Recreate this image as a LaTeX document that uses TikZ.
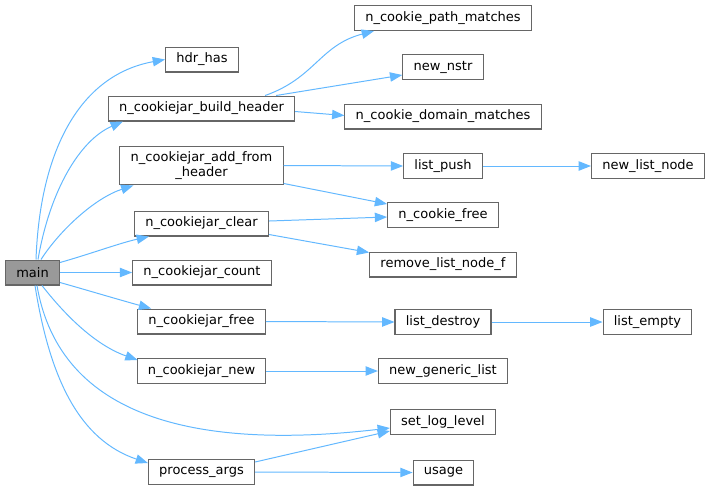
\documentclass[tikz,border=0pt]{standalone}
\usepackage{fontspec}
\setmainfont{DejaVu Sans}
\usetikzlibrary{arrows.meta,calc}
\definecolor{callblue}{HTML}{63B8FF}
\definecolor{boxgray}{HTML}{666666}
\definecolor{maingray}{HTML}{999999}
\begin{document}
\begin{tikzpicture}[x=0.03cm,y=-0.03cm,>={Triangle[length=10.5pt,width=8pt]},
	fn/.style={draw=boxgray,fill=white,line width=0.9pt,minimum height=21.3pt,
		inner xsep=9.2pt,inner ysep=2pt,font=\fontsize{11.1pt}{12.6pt}\selectfont},
	call/.style={->,draw=callblue,line width=0.85pt}]
\useasboundingbox (0,0) rectangle (711,491);
\node[fn,fill=maingray] (main) at (32.5,272.5) {main};
\node[fn] (hdr) at (202,59.5) {hdr\_has};
\node[fn] (bh) at (201.5,108.5) {n\_cookiejar\_build\_header};
\node[fn,align=center,minimum height=33.2pt] (af) at (201.5,165.5) {n\_cookiejar\_add\_from\\\_header};
\node[fn] (clr) at (201.5,223.5) {n\_cookiejar\_clear};
\node[fn] (cnt) at (202,272.5) {n\_cookiejar\_count};
\node[fn] (jfree) at (201.5,321.5) {n\_cookiejar\_free};
\node[fn] (jnew) at (201.5,371) {n\_cookiejar\_new};
\node[fn] (pa) at (201.5,472) {process\_args};
\node[fn] (pm) at (443,18) {n\_cookie\_path\_matches};
\node[fn] (nstr) at (443,67) {new\_nstr};
\node[fn] (dm) at (443,116.5) {n\_cookie\_domain\_matches};
\node[fn] (lp) at (443,166) {list\_push};
\node[fn] (cf) at (443,215) {n\_cookie\_free};
\node[fn] (nln) at (648,166) {new\_list\_node};
\node[fn] (rl) at (443,264.5) {remove\_list\_node\_f};
\node[fn] (ld) at (443,322) {list\_destroy};
\node[fn] (le) at (647.5,322) {list\_empty};
\node[fn] (ngl) at (443,371) {new\_generic\_list};
\node[fn] (sll) at (443,422) {set\_log\_level};
\node[fn] (use) at (443.5,472.5) {usage};
\draw[call] ($(main.north)+(3.5,0)$) .. controls (40,150) and (80,75) .. (hdr.west);
\draw[call] ($(main.north)+(5.5,0)$) .. controls (50,190) and (80,140) .. ($(bh.south west)+(15,0)$);
\draw[call] ($(main.north)+(8.5,0)$) .. controls (60,230) and (95,198) .. ($(af.south west)+(14,0)$);
\draw[call] ($(main.north east)+(0,3)$) .. controls (90,254) and (120,243) .. ($(clr.south west)+(15,0)$);
\draw[call] (main.east) -- (cnt.west);
\draw[call] ($(main.south east)+(0,-3)$) .. controls (90,291) and (120,300) .. ($(jfree.north west)+(14,0)$);
\draw[call] ($(main.south)+(9.5,0)$) .. controls (65,315) and (95,345) .. ($(jnew.north west)+(1,2)$);
\draw[call] ($(main.south)+(4.5,0)$) .. controls (60,420) and (200,450) .. ($(sll.west)+(0,6)$);
\draw[call] ($(main.south)+(2.5,0)$) .. controls (50,380) and (80,440) .. ($(pa.north west)+(0,4)$);
\draw[call] ($(bh.north east)+(-30,0)$) .. controls (315,78) and (320,45) .. ($(pm.south west)+(20,0)$);
\draw[call] ($(bh.north east)+(-19,0)$) -- ($(nstr.south west)+(0,-5)$);
\draw[call] ($(bh.east)+(0,3)$) -- ($(dm.west)+(0,-1)$);
\draw[call] (af.east) -- (lp.west);
\draw[call] ($(af.south east)+(0,-2)$) -- ($(cf.north west)+(0,2)$);
\draw[call] ($(clr.east)+(0,-2.5)$) -- ($(cf.west)+(0,2)$);
\draw[call] ($(clr.south east)+(0,-2)$) -- ($(rl.north west)+(0,1)$);
\draw[call] (lp.east) -- (nln.west);
\draw[call] (jfree.east) -- (ld.west);
\draw[call] (ld.east) -- (le.west);
\draw[call] (jnew.east) -- (ngl.west);
\draw[call] ($(pa.north east)+(0,3)$) -- ($(sll.west)+(0,9)$);
\draw[call] (pa.east) -- (use.west);
\end{tikzpicture}
\end{document}
